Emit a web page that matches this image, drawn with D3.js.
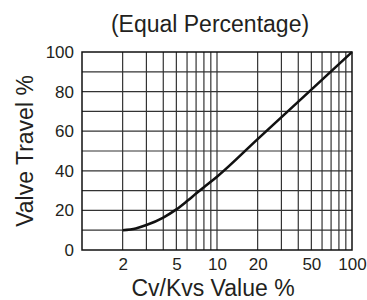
<!DOCTYPE html>
<html lang="en">

  <head>
    <meta charset="UTF-8" />
    <title>Equal Percentage</title>
    <script src="https://cdn.jsdelivr.net/npm/d3@7/dist/d3.min.js"></script>
    <style>
      body {
        margin: 0;
        background: #fff;
      }
      text {
        font-family: "Liberation Sans", Arial, Helvetica, sans-serif;
        fill: #231f20;
      }
    </style>
  </head>

  <body>
    <svg class="svg" width="367" height="300"></svg>
    <script>
      // data
      const cvValues = [2, 2.5, 3, 4, 5, 6, 7, 8, 10, 20, 50, 100];
      const travelValues = [10, 10.9, 12.6, 16.4, 20.5, 24.7, 28.5, 31.7, 37, 56, 81, 100];
      const cvTicks = [2, 5, 10, 20, 50, 100];
      const travelTicks = [0, 20, 40, 60, 80, 100];
      const cvGrid = [2, 3, 4, 5, 6, 7, 8, 9, 10, 20, 30, 40, 50, 60, 70, 80, 90];
      const travelGrid = [10, 20, 30, 40, 50, 60, 70, 80, 90];

      const margin = { top: 52, right: 15, bottom: 50, left: 82 };
      const width = 367 - margin.left - margin.right;
      const height = 300 - margin.top - margin.bottom;

      const svg = d3.select('.svg');
      const g = svg.append('g')
        .attr('transform', `translate(${margin.left},${margin.top})`);

      const x = d3.scaleLog().domain([1, 100]).range([0, width]);
      const y = d3.scaleLinear().domain([0, 100]).range([height, 0]);

      // grid
      g.append('g')
        .selectAll('line')
        .data(cvGrid)
        .join('line')
        .attr('x1', d => x(d)).attr('x2', d => x(d))
        .attr('y1', 0).attr('y2', height)
        .attr('stroke', '#333')
        .attr('stroke-width', 1.2);
      g.append('g')
        .selectAll('line')
        .data(travelGrid)
        .join('line')
        .attr('x1', 0).attr('x2', width)
        .attr('y1', d => y(d)).attr('y2', d => y(d))
        .attr('stroke', '#333')
        .attr('stroke-width', 1.2);

      // frame
      g.append('rect')
        .attr('width', width)
        .attr('height', height)
        .attr('fill', 'none')
        .attr('stroke', '#111')
        .attr('stroke-width', 1.5);

      // axes labels only
      const xAxis = g.append('g')
        .attr('transform', `translate(0,${height})`)
        .call(d3.axisBottom(x).tickValues(cvTicks).tickFormat(d3.format('d')).tickSize(0).tickPadding(8));
      const yAxis = g.append('g')
        .call(d3.axisLeft(y).tickValues(travelTicks).tickSize(0).tickPadding(8));
      [xAxis, yAxis].forEach(a => {
        a.select('.domain').remove();
        a.selectAll('text')
          .attr('font-size', 17)
          .attr('font-family', null)
          .attr('fill', '#231f20');
      });

      // curve
      const pts = cvValues.map((c, i) => [c, travelValues[i]]);
      g.append('path')
        .datum(pts)
        .attr('fill', 'none')
        .attr('stroke', '#111')
        .attr('stroke-width', 2.6)
        .attr('stroke-linejoin', 'round')
        .attr('d', d3.line()
          .x(d => x(d[0]))
          .y(d => y(d[1]))
          .curve(d3.curveMonotoneX));

      // titles
      svg.append('text')
        .attr('x', 210)
        .attr('y', 32)
        .attr('text-anchor', 'middle')
        .attr('font-size', 23)
        .text('(Equal Percentage)');

      svg.append('text')
        .attr('x', margin.left + width / 2 - 4)
        .attr('y', 296)
        .attr('text-anchor', 'middle')
        .attr('font-size', 23)
        .text('Cv/Kvs Value %');

      svg.append('text')
        .attr('transform', `translate(33,${margin.top + height / 2}) rotate(-90)`)
        .attr('text-anchor', 'middle')
        .attr('font-size', 23)
        .text('Valve Travel %');
    </script>
  </body>

</html>
